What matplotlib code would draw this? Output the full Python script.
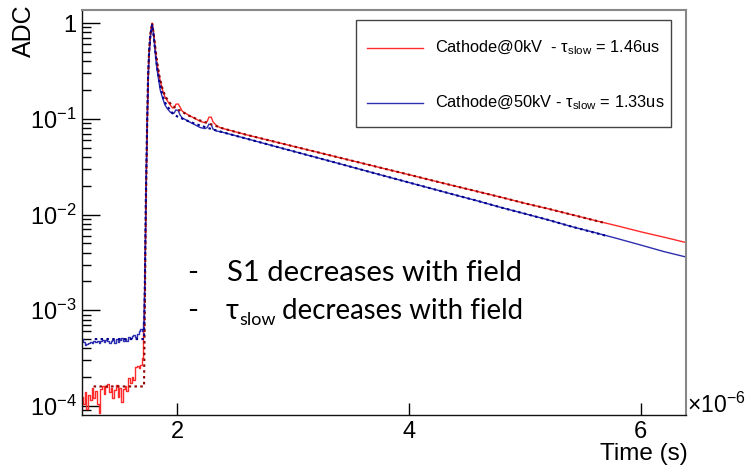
import numpy as np
import matplotlib.pyplot as plt
from matplotlib.ticker import FixedLocator, FixedFormatter, NullFormatter
from matplotlib.patches import Rectangle
from matplotlib.lines import Line2D

plt.rcParams["font.family"] = "Liberation Sans"
plt.rcParams["mathtext.fontset"] = "custom"
plt.rcParams["mathtext.rm"] = "Liberation Sans"
plt.rcParams["mathtext.it"] = "Liberation Sans:italic"
plt.rcParams["mathtext.default"] = "regular"

# ------------------------------------------------------------------
# data (time in us, ADC normalised)
# ------------------------------------------------------------------
time_us = [
    1.180, 1.195, 1.210, 1.225, 1.240, 1.255, 1.270, 1.285, 1.300, 1.315,
    1.330, 1.345, 1.360, 1.375, 1.390, 1.405, 1.420, 1.435, 1.450, 1.465,
    1.480, 1.495, 1.510, 1.525, 1.540, 1.555, 1.570, 1.585, 1.600, 1.615,
    1.630, 1.645, 1.660, 1.675, 1.690, 1.705,
    1.715, 1.725, 1.735, 1.745, 1.755, 1.765, 1.775, 1.785, 1.795, 1.805,
    1.815, 1.825, 1.840, 1.855, 1.875, 1.895, 1.915, 1.940, 1.960, 1.975,
    1.990, 2.010, 2.025, 2.045, 2.080, 2.120, 2.160, 2.200, 2.240, 2.260,
    2.275, 2.295, 2.310, 2.340, 2.370, 2.400,
    2.6, 2.8, 3.0, 3.2, 3.4, 3.6, 3.8, 4.0, 4.2, 4.4,
    4.6, 4.8, 5.0, 5.2, 5.4, 5.6, 5.8, 6.0, 6.2, 6.39,
]
n_baseline = 36

adc_0kv = [
    1.25e-4, 1.05e-4, 1.40e-4, 0.92e-4, 1.30e-4, 1.15e-4, 1.55e-4, 1.20e-4, 1.45e-4, 1.05e-4,
    0.85e-4, 1.50e-4, 1.62e-4, 1.35e-4, 1.58e-4, 1.70e-4, 1.40e-4, 1.55e-4, 1.20e-4, 1.48e-4,
    1.65e-4, 1.25e-4, 1.55e-4, 1.10e-4, 1.50e-4, 1.62e-4, 1.45e-4, 1.95e-4, 1.75e-4, 2.00e-4,
    1.85e-4, 2.55e-4, 2.60e-4, 2.50e-4, 2.70e-4, 3.20e-4,
    6.0e-4, 3.0e-3, 0.025, 0.12, 0.38, 0.62, 0.85, 1.0, 0.85, 0.66,
    0.50, 0.39, 0.30, 0.25, 0.20, 0.17, 0.155, 0.140, 0.130, 0.130,
    0.142, 0.143, 0.133, 0.120, 0.113, 0.106, 0.100, 0.094, 0.091, 0.094,
    0.104, 0.104, 0.093, 0.085, 0.081, 0.079,
    0.0680, 0.0593, 0.0517, 0.0451, 0.0393, 0.0343, 0.0299, 0.0261, 0.0227, 0.0198,
    0.0173, 0.0151, 0.0131, 0.0115, 0.0100, 0.0087, 0.0076, 0.0066, 0.0058, 0.0051,
]

adc_50kv = [
    5.0e-4, 4.7e-4, 4.3e-4, 4.4e-4, 4.6e-4, 4.7e-4, 4.6e-4, 4.8e-4, 4.7e-4, 4.8e-4,
    4.6e-4, 4.8e-4, 4.9e-4, 4.7e-4, 4.9e-4, 4.8e-4, 4.5e-4, 4.8e-4, 4.9e-4, 4.6e-4,
    5.0e-4, 4.7e-4, 4.9e-4, 5.1e-4, 4.8e-4, 5.0e-4, 4.8e-4, 5.2e-4, 5.1e-4, 5.4e-4,
    5.5e-4, 5.3e-4, 5.6e-4, 6.0e-4, 6.4e-4, 6.0e-4,
    7.5e-4, 3.5e-3, 0.030, 0.13, 0.38, 0.60, 0.82, 0.97, 0.80, 0.60,
    0.44, 0.34, 0.26, 0.20, 0.165, 0.140, 0.128, 0.118, 0.113, 0.115,
    0.124, 0.122, 0.110, 0.102, 0.097, 0.091, 0.086, 0.081, 0.079, 0.081,
    0.088, 0.087, 0.078, 0.0745, 0.0735, 0.0720,
    0.0620, 0.0533, 0.0459, 0.0395, 0.0340, 0.0292, 0.0251, 0.0216, 0.0186, 0.0160,
    0.0138, 0.0118, 0.0102, 0.0088, 0.0075, 0.0065, 0.0056, 0.0048, 0.0041, 0.0036,
]

# fitted curves (dotted)
fit_time_0kv = [
    1.28, 1.40, 1.55, 1.70, 1.715, 1.722, 1.730, 1.740, 1.750, 1.760,
    1.770, 1.785, 1.800, 1.815, 1.830, 1.850, 1.875, 1.900, 1.950, 2.000,
    2.10, 2.20, 2.30, 2.40, 2.6, 2.8, 3.0, 3.2, 3.4, 3.6,
    3.8, 4.0, 4.2, 4.4, 4.6, 4.8, 5.0, 5.2, 5.4, 5.7,
]
fit_0kv = [
    1.60e-4, 1.60e-4, 1.60e-4, 1.60e-4, 1.60e-4, 1.0e-3, 0.010, 0.060, 0.28, 0.55,
    0.78, 1.0, 0.75, 0.52, 0.38, 0.27, 0.205, 0.170, 0.140, 0.127,
    0.108, 0.096, 0.087, 0.079, 0.0680, 0.0593, 0.0517, 0.0451, 0.0393, 0.0343,
    0.0299, 0.0261, 0.0227, 0.0198, 0.0173, 0.0151, 0.0131, 0.0115, 0.0100, 0.0081,
]
fit_time_50kv = [
    1.29, 1.40, 1.55, 1.70, 1.715, 1.722, 1.730, 1.740, 1.750, 1.760,
    1.770, 1.785, 1.800, 1.815, 1.830, 1.850, 1.875, 1.900, 1.950, 2.000,
    2.10, 2.20, 2.30, 2.40, 2.6, 2.8, 3.0, 3.2, 3.4, 3.6,
    3.8, 4.0, 4.2, 4.4, 4.6, 4.8, 5.0, 5.2, 5.4, 5.7,
]
fit_50kv = [
    5.0e-4, 5.0e-4, 5.0e-4, 5.0e-4, 5.0e-4, 1.8e-3, 0.013, 0.070, 0.28, 0.53,
    0.76, 0.97, 0.70, 0.47, 0.33, 0.235, 0.175, 0.145, 0.118, 0.106,
    0.094, 0.085, 0.078, 0.0720, 0.0620, 0.0533, 0.0459, 0.0395, 0.0340, 0.0292,
    0.0251, 0.0216, 0.0186, 0.0160, 0.0138, 0.0118, 0.0102, 0.0088, 0.0075, 0.0060,
]

legend_labels = [
    r"Cathode@0kV  - $\tau_{slow}$ = 1.46us",
    r"Cathode@50kV - $\tau_{slow}$ = 1.33us",
]
y_tick_values = [1e-4, 1e-3, 1e-2, 1e-1, 1]
y_tick_labels = [r"$10^{-4}$", r"$10^{-3}$", r"$10^{-2}$", r"$10^{-1}$", "1"]
x_tick_values = [2, 4, 6]

col_red = "#ff2a2a"
col_blue = "#2e2eb0"
col_red_fit = "#8e0000"
col_blue_fit = "#00008e"

W, H = 746, 469
fig = plt.figure(figsize=(W / 100, H / 100), dpi=100)
ax = fig.add_axes([82 / W, 1 - 415 / H, (686 - 82) / W, (415 - 10) / H])


def fx(px):
    return px / W


def fy(py):
    return 1 - py / H


t = np.array(time_us)
for vals, col in [(adc_0kv, col_red), (adc_50kv, col_blue)]:
    v = np.array(vals)
    ax.plot(t[:n_baseline + 1], v[:n_baseline + 1], drawstyle="steps-mid",
            color=col, lw=1.0)
    ax.plot(t[n_baseline:], v[n_baseline:], color=col, lw=1.0)

ax.plot(fit_time_0kv, fit_0kv, color=col_red_fit, lw=1.5, ls=(0, (1.2, 1.6)))
ax.plot(fit_time_50kv, fit_50kv, color=col_blue_fit, lw=1.5, ls=(0, (1.2, 1.6)))

ax.set_yscale("log")
ax.set_xlim(1.18, 6.39)
ax.set_ylim(8.05e-5, 1.37)

ax.yaxis.set_major_locator(FixedLocator(y_tick_values))
ax.yaxis.set_major_formatter(FixedFormatter(y_tick_labels))
minor = [m * d for d in [1e-5, 1e-4, 1e-3, 1e-2, 1e-1] for m in range(2, 10)]
ax.yaxis.set_minor_locator(FixedLocator(minor))
ax.yaxis.set_minor_formatter(NullFormatter())
ax.xaxis.set_major_locator(FixedLocator(x_tick_values))
ax.xaxis.set_minor_locator(FixedLocator([]))

ax.tick_params(axis="y", which="major", direction="in", length=13, width=1,
               labelsize=17, pad=4)
ax.tick_params(axis="y", which="minor", direction="in", length=6.5, width=1)
ax.tick_params(axis="x", which="major", direction="in", length=8.5, width=1,
               labelsize=17, pad=4)
ax.tick_params(top=False, right=False)

for s in ["left", "bottom"]:
    ax.spines[s].set_linewidth(1.0)
    ax.spines[s].set_color("#111111")
for s in ["top", "right"]:
    ax.spines[s].set_linewidth(1.5)
    ax.spines[s].set_color("#888888")

# axis titles (ROOT style)
fig.text(fx(24), fy(31), "ADC", rotation=90, ha="center", va="center", fontsize=18)
fig.text(fx(688), fy(454), "Time (s)", ha="right", va="center", fontsize=17.5)
fig.text(fx(687), fy(405), r"$\times10^{-6}$", ha="left", va="center", fontsize=16.5)

# legend box
box = Rectangle((fx(356), fy(127)), (671 - 356) / W, (127 - 20) / H,
                transform=fig.transFigure, facecolor="white",
                edgecolor="#444444", lw=1.0, zorder=5)
fig.patches.append(box)
for ypx, col, lab in [(48, col_red, legend_labels[0]), (103, col_blue, legend_labels[1])]:
    fig.lines.append(Line2D([fx(367), fx(423)], [fy(ypx), fy(ypx)],
                            transform=fig.transFigure, color=col, lw=1.0, zorder=6))
    fig.text(fx(435), fy(ypx), lab, ha="left", va="center", fontsize=11.8, zorder=6)

# slide annotations
note_font = dict(family="Lato", fontsize=21, color="black")
note_font2 = dict(family="Lato", fontsize=19.9, color="black")
fig.text(fx(187), fy(281), "-", ha="left", va="baseline", **note_font)
fig.text(fx(227), fy(281), "S1 decreases with field", ha="left", va="baseline", **note_font)
fig.text(fx(187), fy(319), "-", ha="left", va="baseline", **note_font)
t_tau = fig.text(fx(226), fy(319), "\u03c4", ha="left", va="baseline", **note_font2)
t_slow = ax.annotate("slow", xy=(1, 0), xycoords=t_tau, xytext=(0.3, -3.0),
                     textcoords="offset points", ha="left", va="bottom",
                     family="Lato", fontsize=13, annotation_clip=False)
ax.annotate(" decreases with field", xy=(1, 0), xycoords=(t_slow, t_tau),
            xytext=(-1, 0), textcoords="offset points", ha="left", va="bottom",
            annotation_clip=False, **note_font2)

fig.savefig("out.png", dpi=100)
